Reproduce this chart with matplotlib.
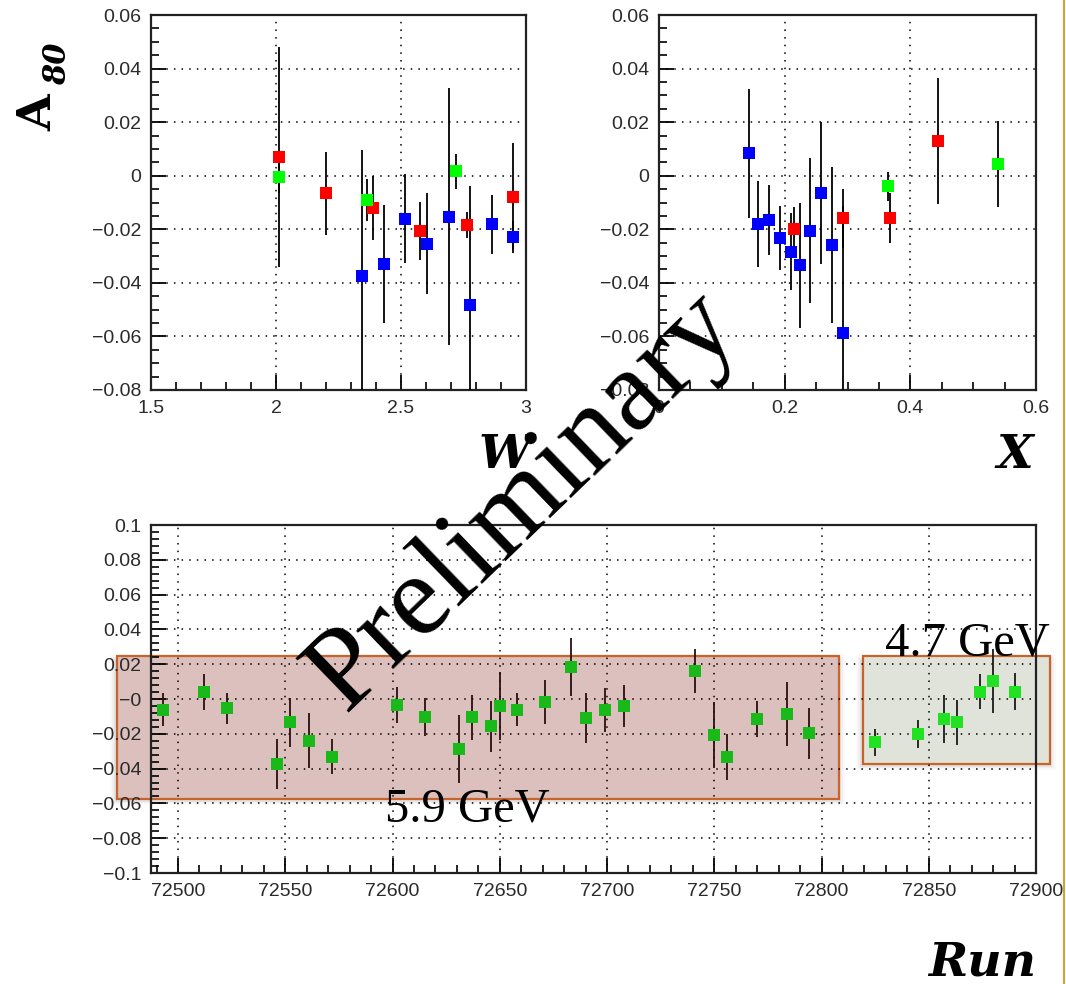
import matplotlib
matplotlib.use("Agg")
import matplotlib.pyplot as plt
from matplotlib.patches import Rectangle
from matplotlib.lines import Line2D
from matplotlib.ticker import MultipleLocator, FuncFormatter

# A_80 versus W
w_red = [2.012, 2.200, 2.387, 2.576, 2.763, 2.949]
a_w_red = [0.0069, -0.0066, -0.0120, -0.0206, -0.0184, -0.0079]
e_w_red = [0.0410, 0.0155, 0.0120, 0.0108, 0.0050, 0.0200]
w_green = [2.012, 2.365, 2.720]
a_w_green = [-0.0006, -0.0091, 0.0016]
e_w_green = [0.0060, 0.0077, 0.0066]
w_blue = [2.345, 2.431, 2.517, 2.603, 2.691, 2.776, 2.864, 2.949]
a_w_blue = [-0.0375, -0.0329, -0.0160, -0.0254, -0.0153, -0.0484, -0.0181, -0.0228]
e_w_blue = [0.0470, 0.0220, 0.0165, 0.0188, 0.0480, 0.0446, 0.0110, 0.0060]

# A_80 versus x
x_red = [0.215, 0.293, 0.3675, 0.4445]
a_x_red = [-0.0199, -0.0158, -0.0158, 0.0130]
e_x_red = [0.0084, 0.0110, 0.0093, 0.0235]
x_green = [0.365, 0.539]
a_x_green = [-0.0040, 0.0043]
e_x_green = [0.0055, 0.0160]
x_blue = [0.1434, 0.158, 0.175, 0.192, 0.210, 0.224, 0.241, 0.2586, 0.276, 0.293]
a_x_blue = [0.0083, -0.0180, -0.0165, -0.0232, -0.0283, -0.0335, -0.0205, -0.0065, -0.0258, -0.0588]
e_x_blue = [0.0240, 0.0160, 0.0130, 0.0120, 0.0144, 0.0234, 0.0270, 0.0266, 0.0290, 0.0475]

# A_80 run by run
run_59 = [72493, 72512, 72523, 72546, 72552, 72561, 72572, 72602, 72615, 72631,
          72637, 72646, 72650, 72658, 72671, 72683, 72690, 72699, 72708, 72741,
          72750, 72756, 72770, 72784, 72794]
a_59 = [-0.0061, 0.0042, -0.0054, -0.0373, -0.0134, -0.0239, -0.0331, -0.0033, -0.0105, -0.0287,
        -0.0105, -0.0157, -0.0042, -0.0061, -0.0019, 0.0186, -0.0109, -0.0061, -0.0042, 0.0163,
        -0.0207, -0.0331, -0.0115, -0.0086, -0.0197]
e_59 = [0.0096, 0.0103, 0.0087, 0.0144, 0.0142, 0.0160, 0.0099, 0.0103, 0.0110, 0.0196,
        0.0130, 0.0148, 0.0196, 0.0094, 0.0126, 0.0166, 0.0145, 0.0127, 0.0120, 0.0127,
        0.0190, 0.0132, 0.0102, 0.0184, 0.0148]
run_47 = [72825, 72845, 72857, 72863, 72874, 72880, 72890]
a_47 = [-0.0249, -0.0201, -0.0115, -0.0134, 0.0042, 0.0101, 0.0042]
e_47 = [0.0077, 0.0081, 0.0139, 0.0130, 0.0099, 0.0184, 0.0108]

W, H = 1066, 984
fig = plt.figure(figsize=(W / 100, H / 100), dpi=100)
fig.patch.set_facecolor("white")

tick_font = {"family": "Liberation Sans", "size": 14}


def fmt(v, pos):
    s = "%g" % round(v, 6)
    return s.replace("-", "\u2212")


def style(ax, xmaj, xmin, ymaj, ymin):
    ax.xaxis.set_major_locator(MultipleLocator(xmaj))
    ax.xaxis.set_minor_locator(MultipleLocator(xmin))
    ax.yaxis.set_major_locator(MultipleLocator(ymaj))
    ax.yaxis.set_minor_locator(MultipleLocator(ymin))
    ax.xaxis.set_major_formatter(FuncFormatter(fmt))
    ax.yaxis.set_major_formatter(FuncFormatter(fmt))
    ax.tick_params(which="major", direction="in", length=11, width=1.3,
                   top=False, right=False, pad=7, labelcolor="#2a2a2a")
    ax.tick_params(which="minor", direction="in", length=5.5, width=1.2,
                   top=False, right=False)
    for lab in ax.get_xticklabels() + ax.get_yticklabels():
        lab.set_fontfamily(tick_font["family"])
        lab.set_fontsize(tick_font["size"])
    ax.grid(True, which="major", color="black", linestyle=(0, (1, 4)), linewidth=1.1)
    for sp in ax.spines.values():
        sp.set_linewidth(1.6)
        sp.set_color("#222222")


def points(ax, x, y, e, color, ecolor="black", ms=8.8):
    ax.errorbar(x, y, yerr=e, fmt="s", color=color, ecolor=ecolor,
                elinewidth=1.3, capsize=0, markersize=ms, markeredgewidth=0,
                zorder=3)


# top left: versus W
ax1 = fig.add_axes([151 / W, 1 - 390 / H, 375 / W, 375 / H])
ax1.set_xlim(1.5, 3)
ax1.set_ylim(-0.08, 0.06)
style(ax1, 0.5, 0.1, 0.02, 0.005)
points(ax1, w_red, a_w_red, e_w_red, "#ff0000")
points(ax1, w_blue, a_w_blue, e_w_blue, "#0000ff")
points(ax1, w_green, a_w_green, e_w_green, "#00ff00")

# top right: versus x
ax2 = fig.add_axes([659 / W, 1 - 390 / H, 377 / W, 375 / H])
ax2.set_xlim(0, 0.6)
ax2.set_ylim(-0.08, 0.06)
style(ax2, 0.2, 0.05, 0.02, 0.005)
points(ax2, x_blue, a_x_blue, e_x_blue, "#0000ff")
points(ax2, x_red, a_x_red, e_x_red, "#ff0000")
points(ax2, x_green, a_x_green, e_x_green, "#00ff00")

# bottom: run number
ax3 = fig.add_axes([151 / W, 1 - 873 / H, 885 / W, 348 / H])
ax3.set_xlim(72487.4, 72900)
ax3.set_ylim(-0.1, 0.1)
style(ax3, 50, 10, 0.02, 0.004)

# shaded beam-energy boxes with a soft shadow
boxes = [((72471.5, -0.0575), 72808.1 - 72471.5, 0.0247 + 0.0575, "#dcc0bd"),
         ((72819.3, -0.0374), 72906.5 - 72819.3, 0.0247 + 0.0374, "#dfe3da")]
for (x0, y0), bw, bh, fc in boxes:
    for k, a in enumerate([0.10, 0.07, 0.04]):
        sh = Rectangle((x0 - 1.2 - k, y0 - 0.0015 - 0.001 * k), bw + 2 + 2 * k, bh + 0.002 * k,
                       facecolor="#777777", edgecolor="none", alpha=a,
                       clip_on=False, zorder=0.3)
        ax3.add_patch(sh)
    r = Rectangle((x0, y0), bw, bh, facecolor=fc, edgecolor="#c8642a",
                  linewidth=1.6, clip_on=False, zorder=0.5)
    ax3.add_patch(r)

points(ax3, run_59, a_59, e_59, "#19b919", ecolor="#2a0f0f", ms=8.6)
points(ax3, run_47, a_47, e_47, "#22e022", ecolor="#1a1a1a", ms=8.6)

fig.text(467 / W, 1 - 810 / H, "5.9 GeV", family="Liberation Serif", fontsize=35,
         ha="center", va="center", color="black", zorder=5)
fig.text(967 / W, 1 - 643 / H, "4.7 GeV", family="Liberation Serif", fontsize=35,
         ha="center", va="center", color="black", zorder=5)

# axis titles
lab = {"family": "DejaVu Serif", "weight": "bold", "style": "italic", "fontsize": 34}
fig.text(505 / W, 1 - 455 / H, "W", ha="center", va="center", **lab)
fig.text(1015 / W, 1 - 455 / H, "X", ha="center", va="center", **lab)
fig.text(982 / W, 1 - 963 / H, "Run", ha="center", va="center", **lab)
fig.text(38 / W, 1 - 113 / H, "A", ha="center", va="center", rotation=90,
         family="DejaVu Serif", weight="bold", fontsize=34)
fig.text(58 / W, 1 - 64 / H, "80", ha="center", va="center", rotation=90,
         family="DejaVu Serif", weight="bold", style="italic", fontsize=22)

fig.text(524 / W, 1 - 502 / H, "Preliminary", family="Liberation Serif", fontsize=84,
         rotation=44, ha="center", va="center", color="black", zorder=10)

fig.add_artist(Line2D([1064 / W, 1064 / W], [0, 1], color="#c9a640", linewidth=1.6))

fig.savefig("out.png", dpi=100)
